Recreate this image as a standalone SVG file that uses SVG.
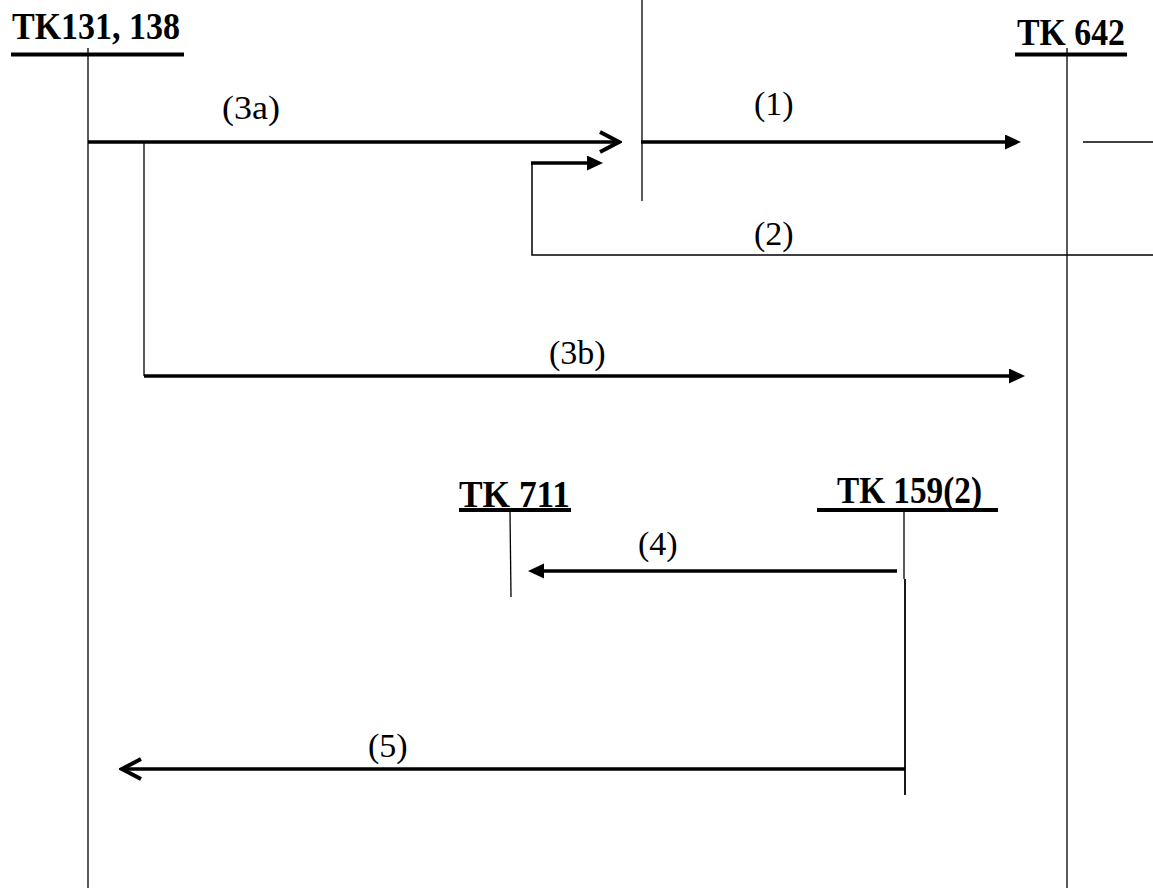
<svg xmlns="http://www.w3.org/2000/svg" width="1153" height="888" viewBox="0 0 1153 888">
  <style>
    .title { font-family: "Liberation Serif", "Times New Roman", serif; font-weight: bold; font-size: 37px; fill: #000; }
    .lbl { font-family: "Liberation Serif", "Times New Roman", serif; font-size: 34px; fill: #000; }
    .uline { stroke: #000; stroke-width: 4; fill: none; }
    .life { stroke: #000; stroke-width: 1.3; fill: none; }
    .thin { stroke: #000; stroke-width: 1.5; fill: none; }
    .msg { stroke: #000; stroke-width: 3.5; fill: none; }
  </style>
  <defs>
    <marker id="filled" markerUnits="userSpaceOnUse" markerWidth="18" markerHeight="16" refX="6" refY="7.5" orient="auto">
      <path d="M0,0 L16,7.5 L0,15 z" fill="#000"/>
    </marker>
    <marker id="open" markerUnits="userSpaceOnUse" markerWidth="24" markerHeight="26" refX="21" refY="12" orient="auto">
      <path d="M2,2 L21,12 L2,22" fill="none" stroke="#000" stroke-width="4"/>
    </marker>
  </defs>
  <rect width="1153" height="888" fill="#fff"/>

  <g id="node-tk131">
    <text class="title" x="12" y="39" textLength="168" lengthAdjust="spacingAndGlyphs">TK131, 138</text>
    <line class="uline" x1="11" y1="54.5" x2="184" y2="54.5"/>
    <line class="life" x1="88" y1="48" x2="88" y2="888"/>
  </g>

  <g id="node-tk642">
    <text class="title" x="1017" y="45" textLength="108" lengthAdjust="spacingAndGlyphs">TK 642</text>
    <line class="uline" x1="1015" y1="54.5" x2="1127" y2="54.5"/>
    <line class="life" x1="1067" y1="48" x2="1067" y2="888"/>
  </g>

  <g id="node-top">
    <line class="life" x1="642" y1="0" x2="642" y2="201"/>
  </g>

  <g id="node-tk711">
    <text class="title" x="459" y="507" textLength="111" lengthAdjust="spacingAndGlyphs">TK 711</text>
    <line class="uline" x1="459" y1="510" x2="571" y2="510"/>
    <line class="life" x1="510" y1="512" x2="511" y2="597"/>
  </g>

  <g id="node-tk159">
    <text class="title" x="837" y="503" textLength="145" lengthAdjust="spacingAndGlyphs">TK 159(2)</text>
    <line class="uline" x1="817" y1="510" x2="998" y2="510"/>
    <line class="life" x1="904" y1="510" x2="904" y2="579"/>
    <line stroke="#000" stroke-width="1.8" x1="905" y1="579" x2="905" y2="795"/>
  </g>

  <g id="connectors">
    <path class="msg" d="M88,142 H619" marker-end="url(#open)"/>
    <path class="life" d="M144,142 V376"/>
    <path class="msg" d="M144,376 H1015" marker-end="url(#filled)"/>
    <path class="msg" d="M641,142 H1011" marker-end="url(#filled)"/>
    <line class="life" x1="1083" y1="142" x2="1153" y2="142"/>
    <path class="thin" d="M1153,255 H532 V163"/>
    <path class="msg" d="M531,163 H593" marker-end="url(#filled)"/>
    <path class="msg" d="M897,571 H538" marker-end="url(#filled)"/>
    <path class="msg" d="M905,769 H122" marker-end="url(#open)"/>
  </g>

  <g id="labels">
    <text class="lbl" x="222" y="119" textLength="58" lengthAdjust="spacingAndGlyphs">(3a)</text>
    <text class="lbl" x="754" y="115">(1)</text>
    <text class="lbl" x="754" y="245">(2)</text>
    <text class="lbl" x="549" y="364">(3b)</text>
    <text class="lbl" x="638" y="555">(4)</text>
    <text class="lbl" x="368" y="757">(5)</text>
  </g>
</svg>
